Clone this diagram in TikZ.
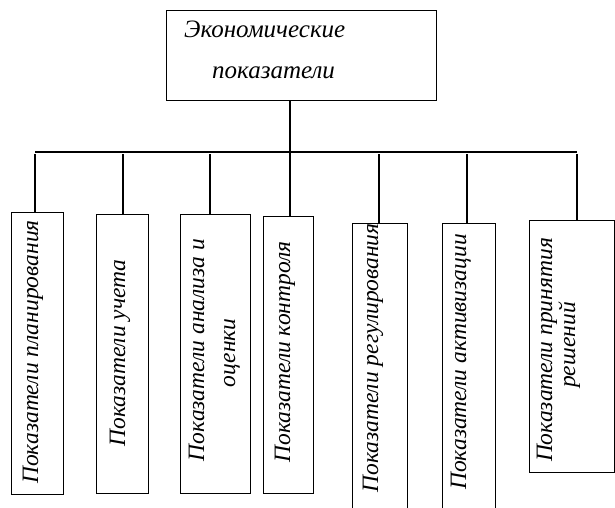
\documentclass[tikz,border=0pt]{standalone}
\usepackage{fontspec}
\setmainfont{Liberation Serif}
\begin{document}
\begin{tikzpicture}[x=1pt,y=-1pt,
  box/.style={draw=black,line width=1.3pt,fill=white,inner sep=0pt,anchor=north west},
  vtext/.style={rotate=90,anchor=base,inner sep=0pt,font=\fontsize{23.5}{27}\selectfont\itshape},
  ttext/.style={anchor=base west,inner sep=0pt,font=\fontsize{25}{28}\selectfont\itshape},
  conn/.style={line width=1.3pt}]
\useasboundingbox (0,0) rectangle (615,507);
\clip (0,0) rectangle (615,507);
% top box
\node[box,minimum width=270pt,minimum height=90pt] (top) at (166,10) {};
\node[ttext] (t1) at (184,37) {Экономические};
\node[ttext] (t2) at (212,78) {показатели};
% lower boxes
\node[box,minimum width=52pt,minimum height=282pt] (b1) at (11,212) {};
\node[box,minimum width=52pt,minimum height=279pt] (b2) at (96,214) {};
\node[box,minimum width=70pt,minimum height=279pt] (b3) at (180,214) {};
\node[box,minimum width=50pt,minimum height=277pt] (b4) at (263,216) {};
\node[box,minimum width=55pt,minimum height=300pt] (b5) at (352,223) {};
\node[box,minimum width=53pt,minimum height=300pt] (b6) at (442,223) {};
\node[box,minimum width=85pt,minimum height=252pt] (b7) at (529,220) {};
% texts
\node[vtext] (l1) at (38,352) {Показатели планирования};
\node[vtext] (l2) at (125,353) {Показатели учета};
\node[vtext] (l3a) at (204,350) {Показатели анализа и};
\node[vtext] (l3b) at (235,353) {оценки};
\node[vtext] (l4) at (290,352) {Показатели контроля};
\node[vtext] (l5) at (378,358) {Показатели регулирования};
\node[vtext] (l6) at (466,362) {Показатели активизации};
\node[vtext] (l7a) at (552,350) {Показатели принятия};
\node[vtext] (l7b) at (575,345) {решений};
% connectors
\coordinate (d1) at (35,152);
\coordinate (d2) at (123,152);
\coordinate (d3) at (210,152);
\coordinate (d4) at (290,152);
\coordinate (d5) at (379,152);
\coordinate (d6) at (467,152);
\coordinate (d7) at (577,152);
\draw[conn] (d1) -- (d7);
\draw[conn] (d4 |- top.south) -- (d4 |- b4.north);
\draw[conn] ([yshift=-2pt]d1) -- (d1 |- b1.north);
\draw[conn] ([yshift=-2pt]d2) -- (d2 |- b2.north);
\draw[conn] ([yshift=-2pt]d3) -- (d3 |- b3.north);
\draw[conn] ([yshift=-2pt]d5) -- (d5 |- b5.north);
\draw[conn] ([yshift=-2pt]d6) -- (d6 |- b6.north);
\draw[conn] ([yshift=-2pt]d7) -- (d7 |- b7.north);
\end{tikzpicture}
\end{document}
